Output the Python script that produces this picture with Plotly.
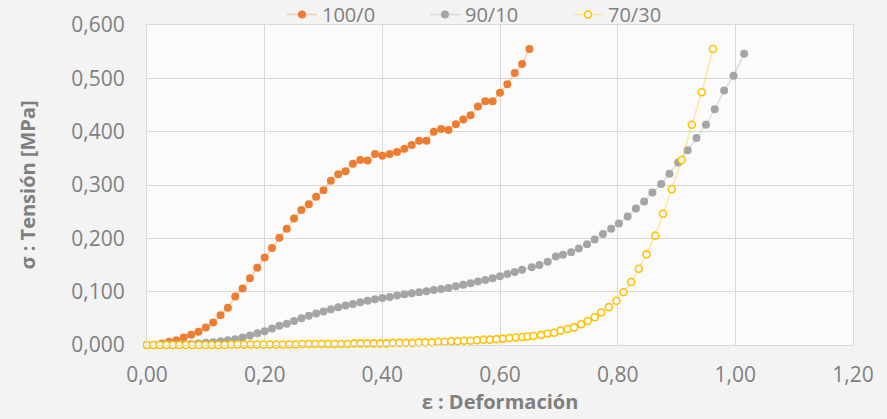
import plotly.graph_objects as go

# ---- data ----
x_100_0 = [0.000, 0.0125, 0.025, 0.0375, 0.050, 0.0625, 0.075, 0.0875, 0.100, 0.1125,
           0.125, 0.1375, 0.150, 0.1625, 0.175, 0.1875, 0.200, 0.2125, 0.225, 0.2375,
           0.250, 0.2625, 0.275, 0.2875, 0.300, 0.3125, 0.325, 0.3375, 0.350, 0.3625,
           0.375, 0.3875, 0.400, 0.4125, 0.425, 0.4375, 0.450, 0.4625, 0.475, 0.4875,
           0.500, 0.5125, 0.525, 0.5375, 0.550, 0.5625, 0.575, 0.5875, 0.600, 0.6125,
           0.625, 0.6375, 0.650]
y_100_0 = [0.000, 0.000, 0.003, 0.006, 0.009, 0.014, 0.019, 0.025, 0.033, 0.042,
           0.056, 0.070, 0.091, 0.106, 0.125, 0.145, 0.164, 0.182, 0.201, 0.218,
           0.237, 0.253, 0.264, 0.278, 0.290, 0.308, 0.320, 0.326, 0.340, 0.347,
           0.346, 0.358, 0.355, 0.358, 0.362, 0.368, 0.375, 0.383, 0.383, 0.400,
           0.405, 0.403, 0.414, 0.423, 0.431, 0.447, 0.457, 0.457, 0.473, 0.489,
           0.510, 0.527, 0.555]

x_90_10 = [0.000, 0.0125, 0.025, 0.0375, 0.050, 0.0625, 0.075, 0.0875, 0.100, 0.1125,
           0.125, 0.1375, 0.150, 0.1625, 0.175, 0.1875, 0.200, 0.2125, 0.225, 0.2375,
           0.250, 0.2625, 0.275, 0.2875, 0.300, 0.3125, 0.325, 0.3375, 0.350, 0.3625,
           0.375, 0.3875, 0.400, 0.4125, 0.425, 0.4375, 0.450, 0.4625, 0.475, 0.4875,
           0.500, 0.5125, 0.525, 0.5375, 0.550, 0.5625, 0.575, 0.5875, 0.600, 0.6125,
           0.625, 0.6375,
           0.654, 0.667, 0.681, 0.695, 0.707, 0.721, 0.734, 0.748, 0.761, 0.775,
           0.789, 0.802, 0.817, 0.831, 0.845, 0.859, 0.874, 0.888, 0.903, 0.919,
           0.934, 0.950, 0.965, 0.981, 0.997, 1.015]
y_90_10 = [0.000, 0.000, 0.001, 0.001, 0.001, 0.002, 0.002, 0.003, 0.004, 0.005,
           0.007, 0.009, 0.011, 0.014, 0.018, 0.022, 0.026, 0.031, 0.036, 0.040,
           0.045, 0.050, 0.055, 0.059, 0.063, 0.067, 0.071, 0.074, 0.077, 0.080,
           0.083, 0.086, 0.088, 0.090, 0.093, 0.095, 0.097, 0.099, 0.101, 0.103,
           0.105, 0.107, 0.110, 0.113, 0.116, 0.119, 0.122, 0.125, 0.129, 0.133,
           0.137, 0.141,
           0.146, 0.150, 0.156, 0.166, 0.169, 0.174, 0.181, 0.189, 0.198, 0.208,
           0.218, 0.228, 0.241, 0.256, 0.269, 0.286, 0.302, 0.321, 0.342, 0.365,
           0.388, 0.413, 0.442, 0.477, 0.505, 0.546]

x_70_30 = [0.000, 0.011, 0.022, 0.033, 0.044, 0.055, 0.066, 0.077, 0.088, 0.099,
           0.110, 0.121, 0.132, 0.143, 0.154, 0.165, 0.176, 0.187, 0.198, 0.209,
           0.220, 0.231, 0.242, 0.253, 0.264, 0.275, 0.286, 0.297, 0.308, 0.319,
           0.330, 0.341, 0.352, 0.363, 0.374, 0.385, 0.396, 0.407, 0.418, 0.429,
           0.440, 0.451, 0.462, 0.473, 0.484, 0.495, 0.506, 0.517, 0.528, 0.539,
           0.550, 0.561, 0.572, 0.583, 0.594, 0.605, 0.616, 0.627, 0.638, 0.647,
           0.657, 0.670, 0.681, 0.692, 0.703, 0.715, 0.726, 0.738, 0.749, 0.761,
           0.772, 0.785, 0.798, 0.810, 0.823, 0.836, 0.849, 0.864, 0.877, 0.892,
           0.909, 0.926, 0.943, 0.962]
y_70_30 = [0.000, 0.000, 0.000, 0.000, 0.000, 0.000, 0.000, 0.000, 0.000, 0.000,
           0.000, 0.000, 0.000, 0.001, 0.001, 0.001, 0.001, 0.001, 0.001, 0.001,
           0.001, 0.001, 0.001, 0.001, 0.002, 0.002, 0.002, 0.002, 0.002, 0.002,
           0.002, 0.002, 0.003, 0.003, 0.003, 0.003, 0.003, 0.003, 0.004, 0.004,
           0.004, 0.004, 0.005, 0.005, 0.005, 0.006, 0.006, 0.007, 0.007, 0.008,
           0.008, 0.009, 0.010, 0.010, 0.011, 0.012, 0.013, 0.014, 0.015, 0.016,
           0.017, 0.019, 0.021, 0.023, 0.027, 0.030, 0.033, 0.039, 0.045, 0.052,
           0.061, 0.071, 0.083, 0.099, 0.118, 0.143, 0.170, 0.205, 0.246, 0.292,
           0.347, 0.413, 0.474, 0.555]

x_ticks = [0.0, 0.2, 0.4, 0.6, 0.8, 1.0, 1.2]
y_ticks = [0.0, 0.1, 0.2, 0.3, 0.4, 0.5, 0.6]

FONT = "Open Sans"
TXT = "#7F7F7F"
GRID = "#D9D9D9"

fig = go.Figure()
fig.add_trace(go.Scatter(
    x=x_100_0, y=y_100_0, name="100/0", mode="lines+markers",
    line=dict(color="rgba(237,125,49,0.35)", width=1.5),
    marker=dict(color="#ED7D31", size=8, symbol="circle"),
    cliponaxis=False))
fig.add_trace(go.Scatter(
    x=x_90_10, y=y_90_10, name="90/10", mode="lines+markers",
    line=dict(color="rgba(165,165,165,0.35)", width=1.5),
    marker=dict(color="#A5A5A5", size=8, symbol="circle"),
    cliponaxis=False))
fig.add_trace(go.Scatter(
    x=x_70_30, y=y_70_30, name="70/30", mode="lines+markers",
    line=dict(color="rgba(255,192,0,0.35)", width=1.5),
    marker=dict(color="#FFFFFF", size=7, symbol="circle",
                line=dict(color="#FFC000", width=1.6)),
    cliponaxis=False))

fig.update_layout(
    width=887, height=419,
    margin=dict(l=147, r=34, t=25, b=74, autoexpand=False),
    paper_bgcolor="#F3F3F3",
    plot_bgcolor="#FBFBFB",
    separators=",.",
    font=dict(family=FONT, color=TXT, size=21),
    showlegend=True,
    legend=dict(orientation="h", xref="paper", yref="paper",
                x=0.1912, xanchor="left", y=1.0328, yanchor="middle",
                bgcolor="rgba(0,0,0,0)", font=dict(size=20, color=TXT),
                itemwidth=30, entrywidth=98),
    xaxis=dict(range=[0, 1.2], tickvals=x_ticks, tickformat=".2f",
               showgrid=True, gridcolor=GRID, gridwidth=1,
               zeroline=False, showline=True, linecolor=GRID, mirror=True,
               ticks="outside", ticklen=11, tickcolor="rgba(0,0,0,0)",
               tickfont=dict(size=21, color=TXT),
               title=dict(text="<b>ε : Deformación</b>", font=dict(size=20, color=TXT),
                          standoff=7)),
    yaxis=dict(range=[0, 0.6], tickvals=y_ticks, tickformat=".3f",
               showgrid=True, gridcolor=GRID, gridwidth=1,
               zeroline=False, showline=True, linecolor=GRID, mirror=True,
               ticks="outside", ticklen=17, tickcolor="rgba(0,0,0,0)",
               tickfont=dict(size=21, color=TXT),
               title=dict(text="<b>σ : Tensión [MPa]</b>", font=dict(size=20, color=TXT),
                          standoff=30)),
)

fig.write_html("out.html")
